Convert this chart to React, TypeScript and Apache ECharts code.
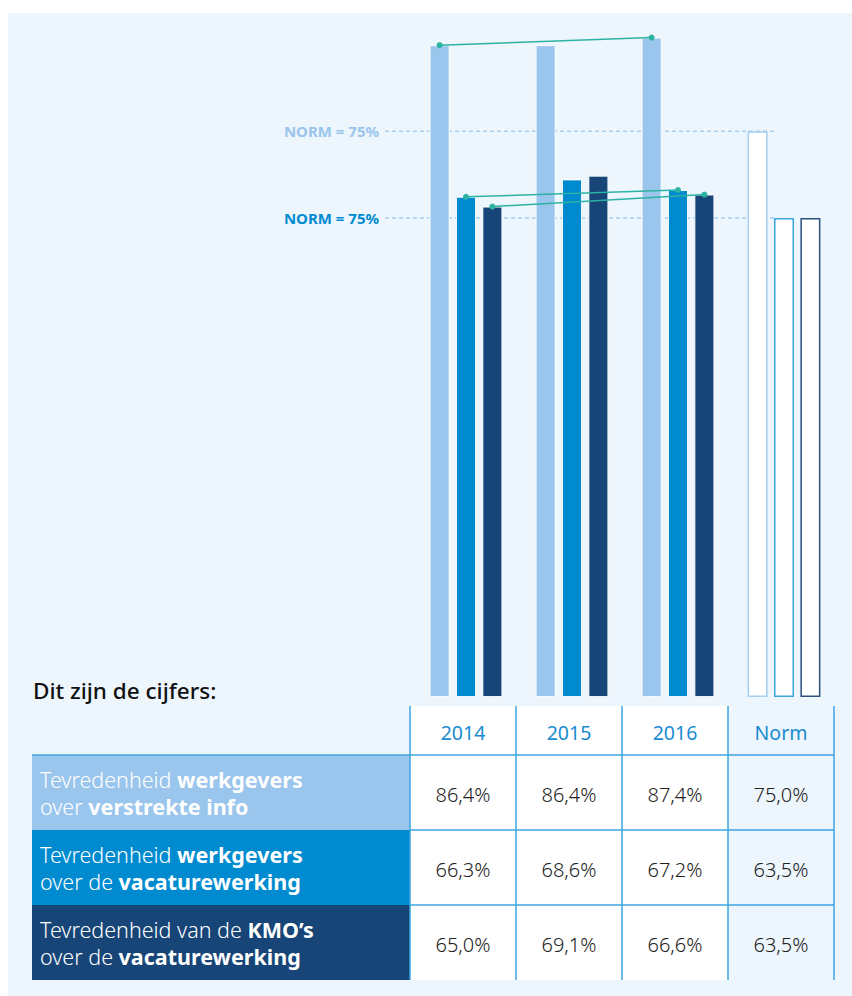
import React, { useEffect, useRef } from 'react';
import * as echarts from 'echarts';

// ---------- data ----------
const categories = ['2014', '2015', '2016', 'Norm'];
const infoValues = [86.4, 86.4, 87.4, 75.0];
const vacatureValues = [66.3, 68.6, 67.2, 63.5];
const kmoValues = [65.0, 69.1, 66.6, 63.5];
const seriesNames = [
  'Tevredenheid werkgevers over verstrekte info',
  'Tevredenheid werkgevers over de vacaturewerking',
  'Tevredenheid van de KMO’s over de vacaturewerking',
];
const rowLabelParts: [string, boolean][][][] = [
  [[['Tevredenheid ', false], ['werkgevers', true]], [['over ', false], ['verstrekte info', true]]],
  [[['Tevredenheid ', false], ['werkgevers', true]], [['over de ', false], ['vacaturewerking', true]]],
  [[['Tevredenheid van de ', false], ['KMO’s', true]], [['over de ', false], ['vacaturewerking', true]]],
];
const normLabels = ['NORM = 75%', 'NORM = 75%'];
const tableTitle = 'Dit zijn de cijfers:';

// ---------- styles ----------
const FONT = '"Noto Sans", "Open Sans", sans-serif';
const BG = '#edf5fd';
const COLORS = ['#9ac5ec', '#008bd0', '#174577'];
const NORM_BORDERS = ['#a6cff0', '#3aa6e0', '#2c4f80'];
const TEAL = '#2db3a3';
const GRID_LINE = '#3da5e0';
const BAR_W = 20;
const BAR_GAP = 0.32;
const SPACING = BAR_W * (1 + BAR_GAP);

const allSeries = [infoValues, vacatureValues, kmoValues];

function fmt(v: number) {
  return v.toFixed(1).replace('.', ',') + '%';
}

export default function App() {
  const ref = useRef<HTMLDivElement>(null);
  useEffect(() => {
    document.body.style.margin = '0';
    const chart = echarts.init(ref.current!, undefined, { renderer: 'svg' });

    const barSeries = allSeries.map((vals, s) => ({
      type: 'bar',
      name: seriesNames[s],
      barWidth: BAR_W,
      barGap: BAR_GAP * 100 + '%',
      z: 2,
      data: vals.map((v, i) =>
        i === 3
          ? { value: v, itemStyle: { color: '#ffffff', borderColor: NORM_BORDERS[s], borderWidth: 1.5 } }
          : { value: v, itemStyle: { color: COLORS[s], borderColor: 'rgba(255,255,255,0.85)', borderWidth: 1 } }
      ),
    }));

    const trendSeries = {
      type: 'custom',
      z: 5,
      encode: { x: 0, y: 1 },
      data: allSeries.map((vals, s) => [0, vals[0], vals[2], s]),
      renderItem: (params: any, api: any) => {
        const s = api.value(3);
        const p1 = api.coord([0, api.value(1)]);
        const p2 = api.coord([2, api.value(2)]);
        const dx = (s - 1) * SPACING;
        const a = [p1[0] + dx, p1[1]];
        const b = [p2[0] + dx, p2[1]];
        return {
          type: 'group',
          children: [
            { type: 'line', shape: { x1: a[0], y1: a[1], x2: b[0], y2: b[1] }, style: { stroke: TEAL, lineWidth: 1.5 } },
            { type: 'circle', shape: { cx: a[0], cy: a[1], r: 3 }, style: { fill: TEAL } },
            { type: 'circle', shape: { cx: b[0], cy: b[1], r: 3 }, style: { fill: TEAL } },
          ],
        };
      },
    };

    const normSeries = {
      type: 'custom',
      z: 1,
      encode: { x: 0, y: 1 },
      data: [
        [3, infoValues[3], 0],
        [3, vacatureValues[3], 1],
      ],
      renderItem: (params: any, api: any) => {
        const idx = api.value(2);
        const y = api.coord([3, api.value(1)])[1];
        return {
          type: 'group',
          children: [
            {
              type: 'line',
              shape: { x1: 385, y1: y, x2: 775, y2: y },
              style: { stroke: '#a6cff0', lineWidth: 1.5, lineDash: [4, 3] },
            },
            {
              type: 'text',
              style: {
                text: normLabels[idx],
                x: 379,
                y: y,
                align: 'right',
                verticalAlign: 'middle',
                fill: idx === 0 ? COLORS[0] : COLORS[1],
                font: `bold 15px ${FONT}`,
              },
            },
          ],
        };
      },
    };

    // ---------- table ----------
    const colLeft = 410;
    const colW = 106;
    const labelLeft = 32;
    const headerTop = 706;
    const headerH = 49;
    const rowTop = headerTop + headerH;
    const rowH = 75;
    const tableBottom = rowTop + rowH * 3;

    const g: any[] = [];
    g.push({ type: 'rect', z: -10, shape: { x: 8, y: 13, width: 844, height: 983 }, style: { fill: BG } });
    g.push({
      type: 'text',
      style: { text: tableTitle, x: 33, y: 690, verticalAlign: 'middle', fill: '#111111', font: `500 22.5px ${FONT}` },
    });
    categories.forEach((c, i) => {
      g.push({
        type: 'rect',
        shape: { x: colLeft + i * colW, y: headerTop, width: colW, height: headerH },
        style: { fill: i < 3 ? '#ffffff' : BG },
      });
      g.push({
        type: 'text',
        style: {
          text: c,
          x: colLeft + i * colW + colW / 2,
          y: headerTop + headerH / 2 + 2,
          align: 'center',
          verticalAlign: 'middle',
          fill: '#1a8bd0',
          font: `19.5px ${FONT}`,
        },
      });
    });
    allSeries.forEach((vals, r) => {
      const y0 = rowTop + r * rowH;
      g.push({
        type: 'rect',
        shape: { x: labelLeft, y: y0, width: colLeft - labelLeft, height: rowH },
        style: { fill: COLORS[r] },
      });
      const rich: any = {
        n: { fill: '#ffffff', font: `300 21.5px ${FONT}`, lineHeight: 27 },
        b: { fill: '#ffffff', font: `bold 21.5px ${FONT}`, lineHeight: 27 },
      };
      const txt = rowLabelParts[r]
        .map((line) => line.map(([t, bold]) => `{${bold ? 'b' : 'n'}|${t}}`).join(''))
        .join('\n');
      g.push({
        type: 'text',
        style: { text: txt, rich, x: 40, y: y0 + rowH / 2, verticalAlign: 'middle' },
      });
      vals.forEach((v, i) => {
        g.push({
          type: 'rect',
          shape: { x: colLeft + i * colW, y: y0, width: colW, height: rowH },
          style: { fill: i < 3 ? '#ffffff' : BG },
        });
        g.push({
          type: 'text',
          style: {
            text: fmt(v),
            x: colLeft + i * colW + colW / 2,
            y: y0 + rowH / 2 + 2,
            align: 'center',
            verticalAlign: 'middle',
            fill: '#222222',
            font: `300 20px ${FONT}`,
          },
        });
      });
    });
    // grid lines
    g.push({ type: 'line', shape: { x1: labelLeft, y1: rowTop, x2: colLeft + 4 * colW, y2: rowTop }, style: { stroke: GRID_LINE, lineWidth: 1.5 } });
    for (let r = 1; r < 3; r++) {
      const y = rowTop + r * rowH;
      g.push({ type: 'line', shape: { x1: colLeft, y1: y, x2: colLeft + 4 * colW, y2: y }, style: { stroke: GRID_LINE, lineWidth: 1.5 } });
    }
    for (let i = 0; i <= 4; i++) {
      const x = colLeft + i * colW;
      g.push({ type: 'line', shape: { x1: x, y1: headerTop, x2: x, y2: tableBottom }, style: { stroke: GRID_LINE, lineWidth: 1.5 } });
    }

    chart.setOption({
      animation: false,
      grid: { left: 413, width: 424, top: 18, height: 679 },
      xAxis: { type: 'category', data: categories, show: false },
      yAxis: { type: 'value', min: 0, max: 90, show: false },
      series: [...barSeries, normSeries, trendSeries],
      graphic: g,
    });
    return () => chart.dispose();
  }, []);
  return <div ref={ref} style={{ width: 852, height: 996 }} />;
}
